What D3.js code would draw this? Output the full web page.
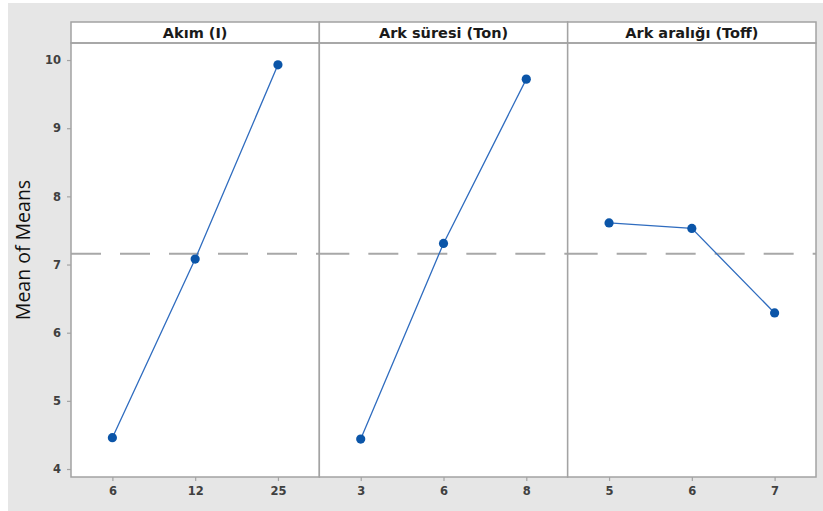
<!DOCTYPE html>
<html>
<head>
<meta charset="utf-8">
<script src="https://cdn.jsdelivr.net/npm/d3@7/dist/d3.min.js"></script>
<style>
  html, body { margin: 0; padding: 0; background: #ffffff; }
  svg { display: block; }
  text { font-family: "DejaVu Sans", "Open Sans", sans-serif; }
</style>
</head>
<body>
<svg id="chart" width="823" height="511"></svg>
<script>
// Main effects plot for means
const factorNames = ["Akım (I)", "Ark süresi (Ton)", "Ark aralığı (Toff)"];
const levelsAkim = ["6", "12", "25"];
const meansAkim = [4.46, 7.08, 9.93];
const levelsTon = ["3", "6", "8"];
const meansTon = [4.44, 7.31, 9.72];
const levelsToff = ["5", "6", "7"];
const meansToff = [7.61, 7.53, 6.29];
const yTicks = [4, 5, 6, 7, 8, 9, 10];
const grandMean = 7.16;
const yLabel = "Mean of Means";

const panels = [
  { name: factorNames[0], levels: levelsAkim, means: meansAkim },
  { name: factorNames[1], levels: levelsTon, means: meansTon },
  { name: factorNames[2], levels: levelsToff, means: meansToff }
];

const svg = d3.select("#chart");

// outer background
svg.append("rect").attr("x", 8).attr("y", 3).attr("width", 815).attr("height", 508)
  .attr("fill", "#e6e6e6");

const left = 71, right = 816, headTop = 22, plotTop = 43, plotBottom = 477;
const panelW = (right - left) / panels.length;
const frameColor = "#a3a3a3";
const tickTextColor = "#404040";

const y = d3.scaleLinear().domain([3.883, 10.25]).range([plotBottom, plotTop]);

// y axis
const yAxis = svg.append("g").attr("transform", `translate(${left},0)`)
  .call(d3.axisLeft(y).tickValues(yTicks).tickSize(4).tickPadding(6).tickFormat(d3.format("d")));
yAxis.select(".domain").remove();
yAxis.selectAll(".tick line").attr("stroke", frameColor).attr("stroke-width", 1.2);
yAxis.selectAll(".tick text").attr("fill", tickTextColor)
  .style("font-size", "11.5px").style("font-weight", 700);

svg.append("text")
  .attr("transform", "translate(30,250) rotate(-90)")
  .attr("text-anchor", "middle")
  .style("font-family", "'Open Sans', sans-serif")
  .style("font-size", "19.5px")
  .attr("fill", "#111")
  .text(yLabel);

panels.forEach((p, i) => {
  const x0 = left + i * panelW, x1 = x0 + panelW;
  const x = d3.scalePoint().domain(p.levels).range([x0, x1]).padding(0.5);
  const g = svg.append("g");

  g.append("rect").attr("x", x0).attr("y", plotTop).attr("width", panelW).attr("height", plotBottom - plotTop)
    .attr("fill", "#fff");

  // reference line at overall mean
  g.append("line").attr("x1", x0).attr("x2", x1).attr("y1", y(grandMean)).attr("y2", y(grandMean))
    .attr("stroke", "#a8a8a8").attr("stroke-width", 2).attr("stroke-dasharray", "30,19");

  // header strip
  g.append("rect").attr("x", x0).attr("y", headTop).attr("width", panelW).attr("height", plotTop - headTop)
    .attr("fill", "#fff").attr("stroke", frameColor).attr("stroke-width", 1.5);
  g.append("text").attr("x", (x0 + x1) / 2).attr("y", headTop + 16)
    .attr("text-anchor", "middle").style("font-size", "14.5px").style("font-weight", 700)
    .attr("fill", "#1a1a1a").text(p.name);

  const pts = p.levels.map((l, k) => [x(l), y(p.means[k])]);
  g.append("path").attr("d", d3.line()(pts)).attr("fill", "none")
    .attr("stroke", "#2f6cbf").attr("stroke-width", 1.3);
  g.selectAll("circle").data(pts).join("circle")
    .attr("cx", d => d[0]).attr("cy", d => d[1]).attr("r", 4.6)
    .attr("fill", "#0b55a8");

  g.append("rect").attr("x", x0).attr("y", plotTop).attr("width", panelW).attr("height", plotBottom - plotTop)
    .attr("fill", "none").attr("stroke", frameColor).attr("stroke-width", 1.5);

  const xa = svg.append("g").attr("transform", `translate(0,${plotBottom})`)
    .call(d3.axisBottom(x).tickSize(4).tickPadding(6));
  xa.select(".domain").remove();
  xa.selectAll(".tick line").attr("stroke", frameColor).attr("stroke-width", 1.2);
  xa.selectAll(".tick text").attr("fill", tickTextColor)
    .style("font-size", "11.5px").style("font-weight", 700);
});
</script>
</body>
</html>
